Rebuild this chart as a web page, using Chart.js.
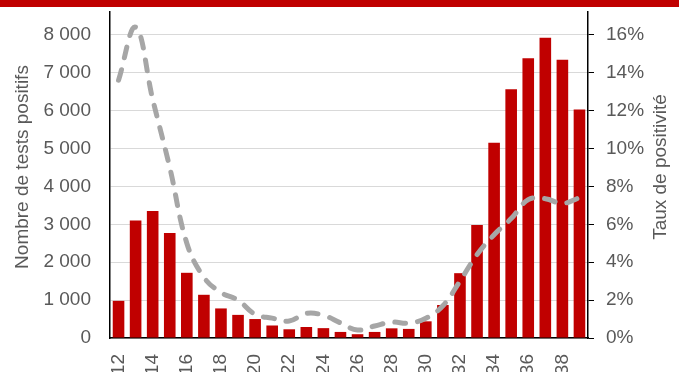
<!DOCTYPE html>
<html lang="fr">
<head>
<meta charset="utf-8">
<title>Tests positifs et taux de positivité</title>
<script src="https://cdn.jsdelivr.net/npm/chart.js@4.4.1/dist/chart.umd.min.js"></script>
<style>
  html, body { margin: 0; padding: 0; background: #fff; overflow: hidden; }
  #wrap { position: relative; width: 679px; height: 372px; }
  #bandeau { position: absolute; left: 0; top: 0; width: 679px; height: 7px; background: #c00000; }
  #chart { position: absolute; left: 0; top: 0; }
</style>
</head>
<body>
<div id="wrap">
  <canvas id="chart" width="679" height="372"></canvas>
  <div id="bandeau"></div>
</div>
<script>
"use strict";

// Semaines
var semaines = [12, 13, 14, 15, 16, 17, 18, 19, 20, 21, 22, 23, 24, 25,
                26, 27, 28, 29, 30, 31, 32, 33, 34, 35, 36, 37, 38, 39];

// Nombre de tests positifs
var positifs = [980, 3100, 3350, 2770, 1720, 1140, 780, 610, 500, 330, 230, 290, 260, 160,
                100, 160, 255, 240, 440, 870, 1710, 2980, 5150, 6560, 7380, 7920, 7340, 6030];

// Taux de positivité (%)
var taux = [13.6, 16.4, 12.6, 9.0, 5.0, 3.2, 2.4, 2.0, 1.25, 1.05, 0.9, 1.3, 1.2, 0.8,
            0.42, 0.63, 0.84, 0.78, 1.04, 1.7, 3.0, 4.4, 5.45, 6.3, 7.3, 7.35, 7.1, 7.4];

// Graduations des deux axes
var graduationsNombre = [0, 1000, 2000, 3000, 4000, 5000, 6000, 7000, 8000];
var graduationsTaux = [0, 2, 4, 6, 8, 10, 12, 14, 16];

var gris = '#595959';
var police = { family: "'Liberation Sans', Arial, sans-serif", size: 19 };

// Titres des axes verticaux (lus de bas en haut des deux côtés)
var titresAxes = {
    id: 'titresAxes',
    afterDraw: function (chart) {
        var ctx = chart.ctx;
        var titres = [
            { texte: 'Nombre de tests positifs', x: 23 },
            { texte: 'Taux de positivité', x: 661 }
        ];
        titres.forEach(function (t) {
            ctx.save();
            ctx.font = police.size + 'px ' + police.family;
            ctx.fillStyle = gris;
            ctx.textAlign = 'center';
            ctx.textBaseline = 'middle';
            ctx.translate(t.x, 167);
            ctx.rotate(-Math.PI / 2);
            ctx.fillText(t.texte, 0, 0);
            ctx.restore();
        });
    }
};

// Taille fixe des axes, sans marge supplémentaire due aux libellés
function taille(largeur, hauteur) {
    return function (s) {
        if (largeur) s.width = largeur;
        if (hauteur) s.height = hauteur;
        s.paddingTop = 0;
        s.paddingBottom = 0;
        s.paddingLeft = 0;
        s.paddingRight = 0;
    };
}

function graduations(valeurs) {
    return function (s) {
        s.ticks = valeurs.map(function (v) { return { value: v }; });
    };
}

var ctx = document.getElementById('chart').getContext('2d');
var graphique = new Chart(ctx, {
    data: {
        labels: semaines,
        datasets: [{
            type: 'line',
            label: 'Taux de positivité',
            data: taux,
            yAxisID: 'y1',
            borderColor: '#a6a6a6',
            borderWidth: 5,
            borderDash: [11, 12],
            borderCapStyle: 'round',
            pointRadius: 0,
            tension: 0.4,
            fill: false,
            order: 0
        }, {
            type: 'bar',
            label: 'Nombre de tests positifs',
            data: positifs,
            yAxisID: 'y',
            backgroundColor: '#c00000',
            categoryPercentage: 1,
            barPercentage: 0.68,
            order: 1
        }]
    },
    options: {
        responsive: false,
        animation: false,
        devicePixelRatio: 1,
        layout: { padding: { top: 12, left: 0, right: 0, bottom: 0 } },
        plugins: {
            legend: { display: false },
            tooltip: { enabled: false }
        },
        scales: {
            x: {
                grid: { display: false, drawTicks: false },
                border: { display: true, color: '#000', width: 1.5 },
                ticks: {
                    color: gris,
                    font: police,
                    autoSkip: false,
                    minRotation: 90,
                    maxRotation: 90,
                    padding: 16,
                    callback: function (v, i) {
                        return i % 2 === 0 ? String(semaines[i]) : '';
                    }
                },
                afterFit: taille(0, 34)
            },
            y: {
                position: 'left',
                min: 0,
                max: 8600,
                grid: { color: '#d9d9d9', lineWidth: 1, drawTicks: false },
                border: { display: true, color: '#000', width: 1.5 },
                afterBuildTicks: graduations(graduationsNombre),
                ticks: {
                    color: gris,
                    font: police,
                    padding: 19,
                    callback: function (v) {
                        return String(v).replace(/\B(?=(\d{3})+(?!\d))/g, ' ');
                    }
                },
                afterFit: taille(110, 0)
            },
            y1: {
                position: 'right',
                min: 0,
                max: 17.2,
                grid: { drawOnChartArea: false, drawTicks: true, tickLength: 6, color: '#000', lineWidth: 1 },
                border: { display: true, color: '#000', width: 1.5 },
                afterBuildTicks: graduations(graduationsTaux),
                ticks: {
                    color: gris,
                    font: police,
                    padding: 12,
                    callback: function (v) { return v + '%'; }
                },
                afterFit: taille(91, 0)
            }
        }
    },
    plugins: [titresAxes]
});
</script>
</body>
</html>
